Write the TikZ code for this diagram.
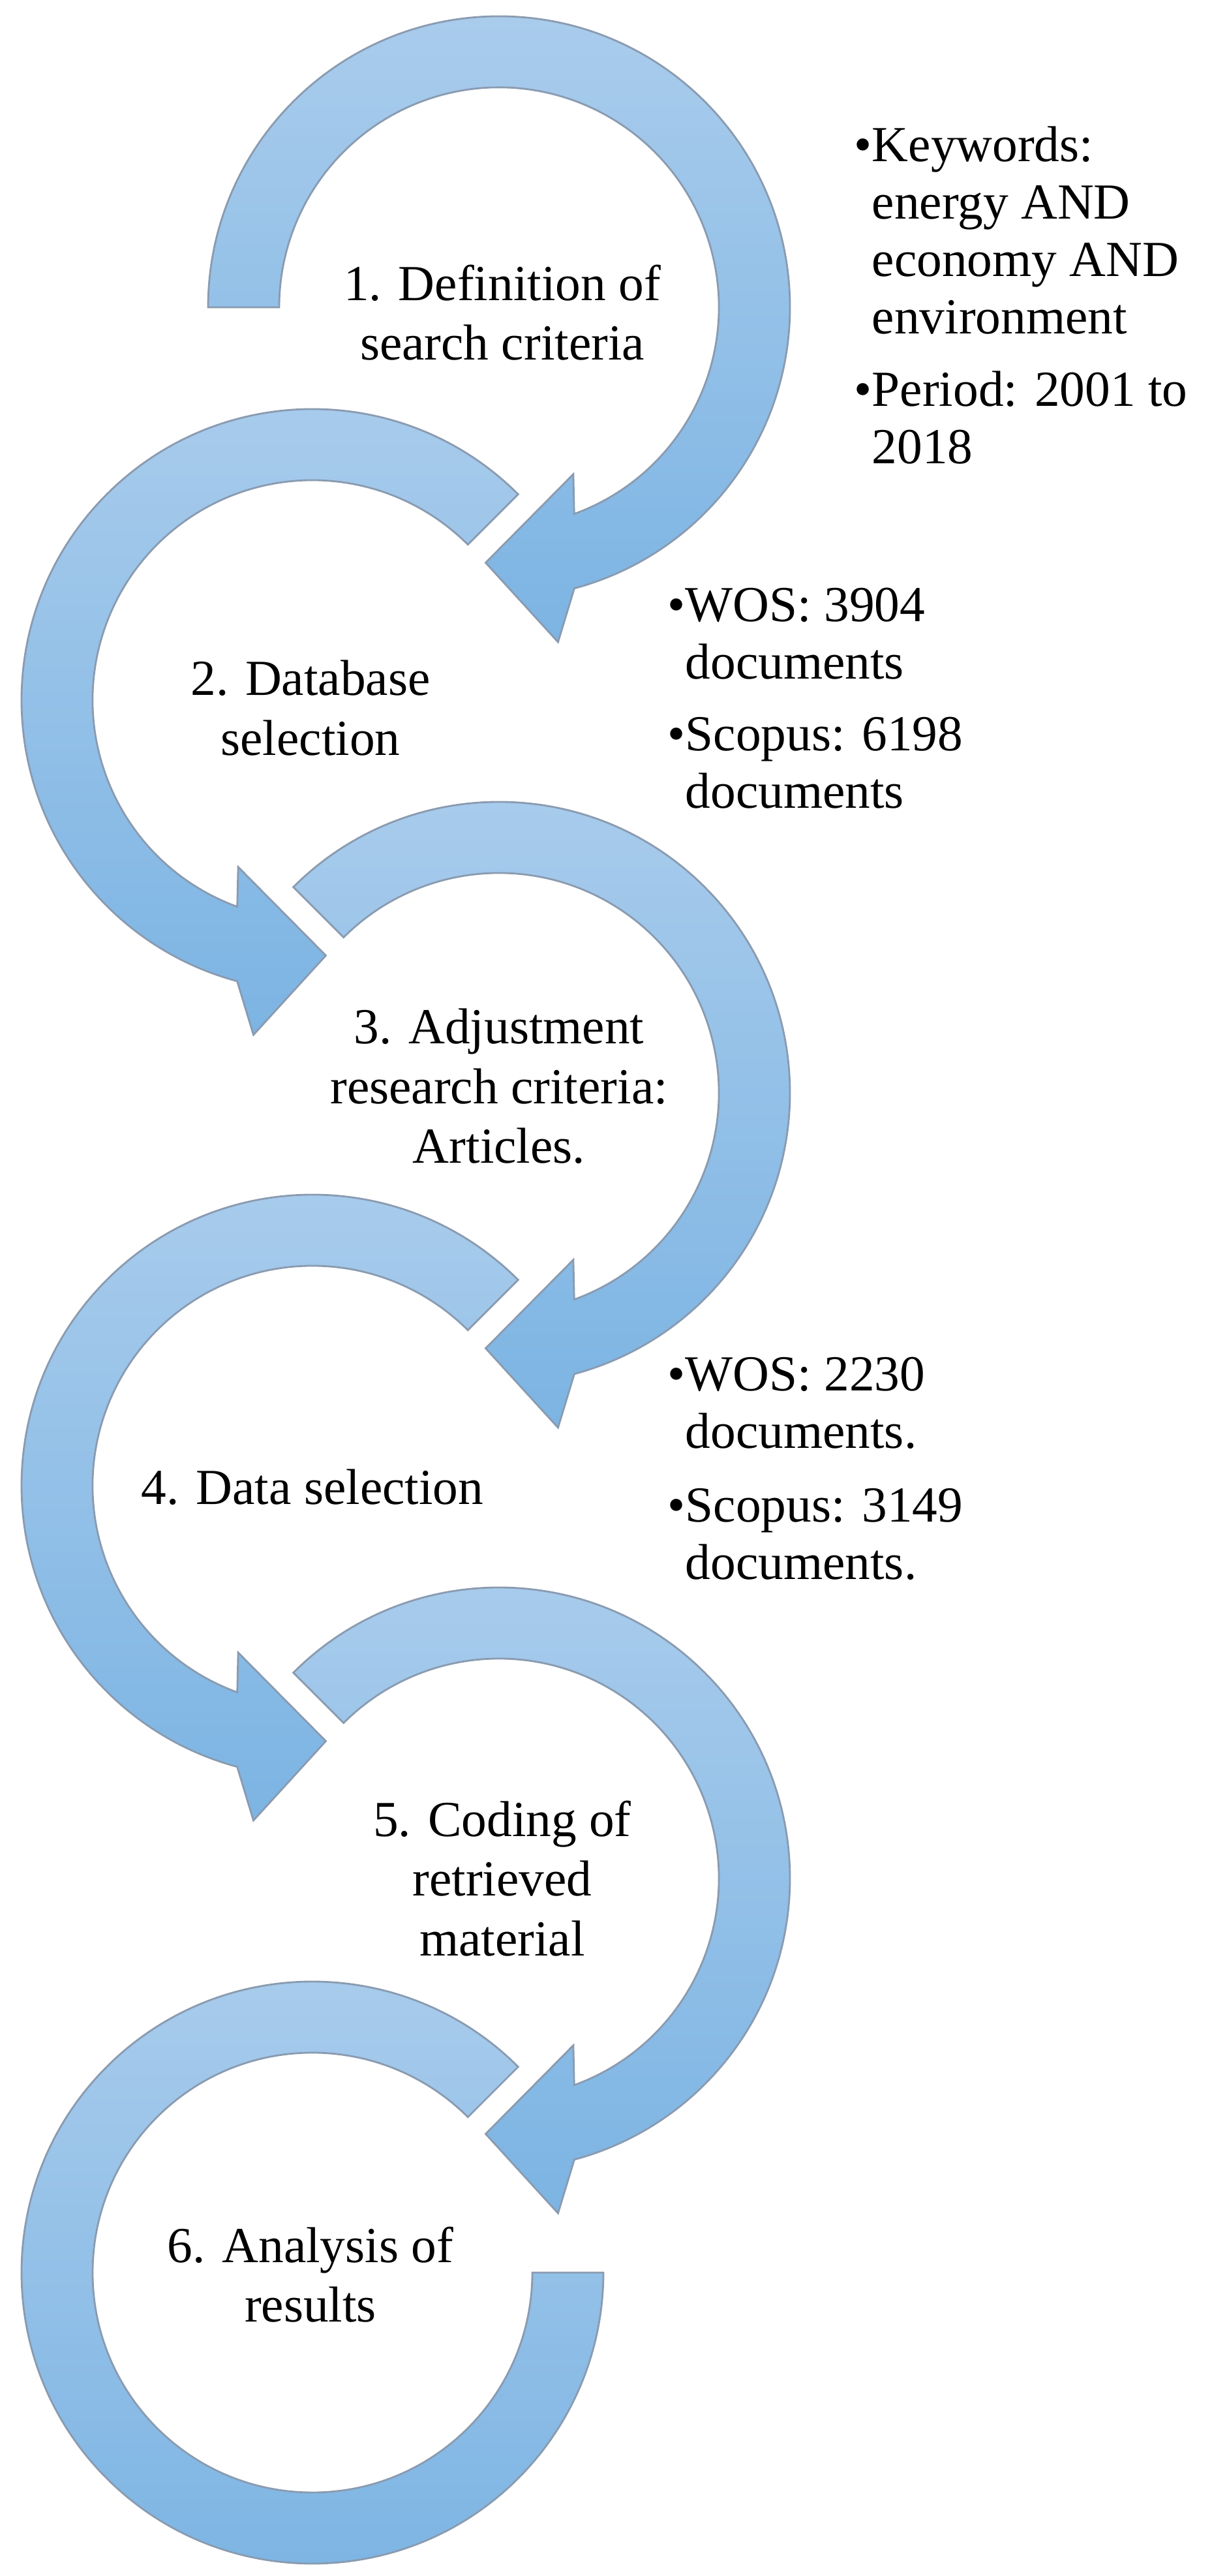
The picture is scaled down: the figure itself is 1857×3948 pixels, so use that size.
\documentclass[tikz,border=0pt]{standalone}
\usepackage{fontspec}
\setmainfont{Liberation Serif}
\definecolor{ringtop}{HTML}{A9CCEC}
\definecolor{ringbot}{HTML}{7CB4E3}
\definecolor{ringline}{HTML}{8A9BB0}
\tikzset{
  ring/.style={top color=ringtop,bottom color=ringbot,draw=ringline,line width=0.8pt},
  phase/.style={align=center,inner sep=0pt,font=\fontsize{22}{26}\selectfont},
  note/.style={align=left,inner sep=0pt,anchor=north west,font=\fontsize{22}{25}\selectfont}
}
\newcommand{\cwring}[3]{%
  \begin{scope}[shift={(#1,#2)}]
    \path[ring] (#3:446) arc[start angle=#3,end angle=-75,radius=446] -- (-80:521) -- (-93:392)
      -- (-66:280) -- (-70:337) arc[start angle=-70,end angle=#3,radius=337] -- cycle;
  \end{scope}}
\newcommand{\ccwring}[3]{%
  \begin{scope}[shift={(#1,#2)}]
    \path[ring] (#3:446) arc[start angle=#3,end angle=255,radius=446] -- (260:521) -- (273:392)
      -- (246:280) -- (250:337) arc[start angle=250,end angle=#3,radius=337] -- cycle;
  \end{scope}}
\newcommand{\bul}{\hphantom{\textbullet}}
\begin{document}
\begin{tikzpicture}[x=0.01cm,y=0.01cm]
	\useasboundingbox (0,0) rectangle (1857,3948);
	% rings
	\cwring{765}{3477}{180}
	\ccwring{479}{2875}{45}
	\cwring{765}{2273}{135}
	\ccwring{479}{1671}{45}
	\cwring{765}{1069}{135}
	\path[ring] (479,465) ++(45:446) arc[start angle=45,end angle=360,radius=446] -- ++(-109,0)
	  arc[start angle=360,end angle=45,radius=337] -- cycle;
	% phases
	\node[phase] (s1) at (770,3469) {1. Definition of\\search criteria};
	\node[phase] (s2) at (476,2863) {2. Database\\selection};
	\node[phase] (s3) at (765,2283) {3. Adjustment\\research criteria:\\Articles.};
	\node[phase] (s4) at (479,1669) {4. Data selection};
	\node[phase] (s5) at (770,1069) {5. Coding of\\retrieved\\material};
	\node[phase] (s6) at (476,462) {6. Analysis of\\results};
	% notes
	\node[note] (k1) at (1309,3755) {\textbullet Keywords:\\\bul energy AND\\\bul economy AND\\\bul environment};
	\node[note] (k2) at (1309,3380) {\textbullet Period: 2001 to\\\bul 2018};
	\node[note] (d1) at (1023,3048) {\textbullet WOS: 3904\\\bul documents};
	\node[note] (d2) at (1023,2850) {\textbullet Scopus: 6198\\\bul documents};
	\node[note] (a1) at (1023,1869) {\textbullet WOS: 2230\\\bul documents.};
	\node[note] (a2) at (1023,1667) {\textbullet Scopus: 3149\\\bul documents.};
\end{tikzpicture}
\end{document}
